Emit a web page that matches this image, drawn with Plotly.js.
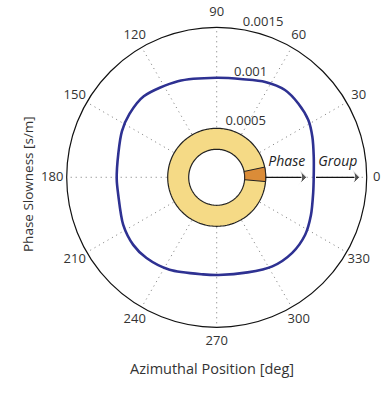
<!DOCTYPE html>
<html><head><meta charset="utf-8">
<script src="https://cdn.plot.ly/plotly-3.0.1.min.js"></script>
<style>body{margin:0;background:#fff}#c{width:383px;height:396px}</style>
</head><body><div id="c"></div>
<script>
const curveTheta = [0, 12, 23, 32, 42, 52, 63, 75, 90, 112, 132, 144, 154, 166, 181, 190, 207, 219, 229, 243, 262, 271, 288, 302, 315, 327, 338, 351, 360];
const curveR = [0.00097, 0.000992, 0.001039, 0.00108, 0.0011, 0.001108, 0.00107, 0.001015, 0.000995, 0.001036, 0.00109, 0.001078, 0.001054, 0.001013, 0.001, 0.001, 0.001049, 0.001074, 0.00107, 0.001038, 0.00098, 0.000977, 0.001, 0.00105, 0.001068, 0.001055, 0.001016, 0.000977, 0.00097];
const ringInner = 0.00028, ringOuter = 0.00049;
const wedgeFrom = -5, wedgeTo = 12;
const phaseArrowR = [0.00049, 0.0009];
const groupArrowR = [0.000993, 0.00143];
const labelText = ['Phase', 'Group'];
const labelR = [0.000716, 0.00122];
const labelTheta = [12, 7];
const angTicks = [0, 30, 60, 90, 120, 150, 180, 210, 240, 270, 300, 330];
const angTickText = ['0', '30', '60', '90', '120', '150', '180', '210', '240', '270', '300', '330'];
const angLabelR = [0.0016, 0.00164, 0.00164, 0.001645, 0.00164, 0.00164, 0.001645, 0.00164, 0.00164, 0.001645, 0.00164, 0.00164];
const radTicks = [0.0005, 0.001, 0.0015];
const radTickText = ['0.0005', '0.001', '0.0015'];
const radLabelAngle = 80;

const circTheta = [];
for (let a = 0; a <= 360; a += 2) circTheta.push(a);
const wedgeTh = [], wedgeR = [];
for (let a = wedgeFrom; a <= wedgeTo; a += 1) { wedgeTh.push(a); wedgeR.push(ringOuter); }
for (let a = wedgeTo; a >= wedgeFrom; a -= 1) { wedgeTh.push(a); wedgeR.push(ringInner); }
wedgeTh.push(wedgeFrom); wedgeR.push(ringOuter);

const FONT = 'Open Sans, sans-serif';
const traces = [
  {type:'scatterpolar', mode:'lines', r: circTheta.map(()=>ringOuter), theta: circTheta,
   fill:'toself', fillcolor:'#F5DA86', line:{color:'#222', width:1.2}, hoverinfo:'skip'},
  {type:'scatterpolar', mode:'lines', r: circTheta.map(()=>ringInner), theta: circTheta,
   fill:'toself', fillcolor:'#ffffff', line:{color:'#222', width:1.2}, hoverinfo:'skip'},
  {type:'scatterpolar', mode:'lines', r: wedgeR, theta: wedgeTh,
   fill:'toself', fillcolor:'#DB8C38', line:{color:'#222', width:1}, hoverinfo:'skip'},
  {type:'scatterpolar', mode:'lines', r: curveR, theta: curveTheta,
   line:{color:'#2E3192', width:2.6, shape:'spline', smoothing:0.8}},
  {type:'scatterpolar', mode:'lines+markers', r: phaseArrowR, theta:[0,0],
   line:{color:'#111', width:1.2},
   marker:{symbol:['circle','arrow-wide'], size:[0,12], color:'#111', angleref:'previous'}},
  {type:'scatterpolar', mode:'lines+markers', r: groupArrowR, theta:[0,0],
   line:{color:'#111', width:1.2},
   marker:{symbol:['circle','arrow-wide'], size:[0,12], color:'#111', angleref:'previous'}},
  {type:'scatterpolar', mode:'text', r: labelR, theta: labelTheta, text: labelText,
   textfont:{family:FONT, size:14, style:'italic', color:'#222'}},
  // angular tick labels (on an overlaid polar with the same scale, wider range)
  {type:'scatterpolar', subplot:'polar2', mode:'text', r: angLabelR, theta: angTicks, text: angTickText,
   textposition:'middle center', cliponaxis:false, textfont:{family:FONT, size:13, color:'#333'}},
  // radial tick labels
  {type:'scatterpolar', subplot:'polar2', mode:'text', r: radTicks, theta: radTicks.map(()=>radLabelAngle), text: radTickText,
   textposition:'top right', cliponaxis:false, textfont:{family:FONT, size:13, color:'#333'}}
];

const hidden = {showgrid:false, showline:false, showticklabels:false, ticks:''};
const layout = {
  width:383, height:396, margin:{l:0,r:0,t:0,b:0}, showlegend:false,
  paper_bgcolor:'#fff',
  font:{family:FONT, color:'#333', size:13},
  polar:{
    domain:{x:[0.1741,0.9575], y:[0.1735,0.9311]},
    bgcolor:'#fff',
    radialaxis:{range:[0,0.0015], showgrid:false, showline:false, ticks:'',
      tickvals: radTicks, showticklabels:false},
    angularaxis:{direction:'counterclockwise', rotation:0, tickvals: angTicks,
      showticklabels:false, ticks:'', showline:true, linecolor:'#111', linewidth:1.2,
      gridcolor:'#777', griddash:'1px,4px', gridwidth:1}
  },
  polar2:{
    domain:{x:[0.1350,0.9966], y:[0.1356,0.9689]},
    bgcolor:'rgba(0,0,0,0)',
    radialaxis:Object.assign({range:[0,0.00165]}, hidden),
    angularaxis:Object.assign({direction:'counterclockwise', rotation:0}, hidden)
  },
  annotations:[
    {text:'Azimuthal Position [deg]', xref:'paper', yref:'paper', x:212/383, y:1-380/396,
     showarrow:false, font:{size:14.5, color:'#333'}},
    {text:'Phase Slowness [s/m]', xref:'paper', yref:'paper', x:17/383, y:1-184/396,
     showarrow:false, textangle:-90, font:{size:13.5, color:'#333'}}
  ]
};
Plotly.newPlot('c', traces, layout, {displayModeBar:false, staticPlot:true});
</script></body></html>
